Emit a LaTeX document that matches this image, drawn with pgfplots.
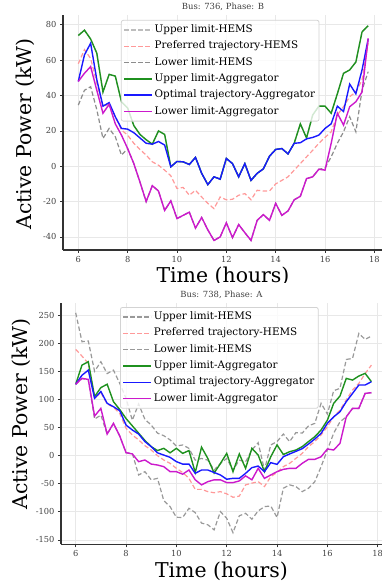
\documentclass[border=0pt]{standalone}
\usepackage{pgfplots}
\pgfplotsset{compat=1.18}
\usepackage{pgfplotstable}
\usepackage{fontspec}
\setmainfont{DejaVu Serif}

\definecolor{cUH}{rgb}{0.74,0.74,0.74}
\definecolor{cLH}{rgb}{0.55,0.55,0.55}
\definecolor{cGH}{rgb}{0.6,0.6,0.6}
\definecolor{cPH}{rgb}{1,0.6,0.6}
\definecolor{cUA}{rgb}{0.12,0.57,0.12}
\definecolor{cOA}{rgb}{0.1,0.1,1}
\definecolor{cLA}{rgb}{0.8,0.1,0.8}
\definecolor{cGrid}{rgb}{0.91,0.91,0.91}
\definecolor{cSpine}{rgb}{0.2,0.2,0.2}
\definecolor{cTxt}{rgb}{0.25,0.25,0.25}

\pgfplotstableread{
t uh ph lh ua oa la
6.00 74 58 34.6 74 48 48
6.25 77 66 43 77 63 52.6
6.50 72 61 45 72 69.6 56.4
6.75 64 47 32 64 49 43
7.00 42 34 15.7 42 34 30
7.25 52 35 21.4 52 36 35
7.50 51 28 16.7 51 28 24
7.75 36.5 20.5 6.3 36.5 21.4 17.6
8.00 33 17.6 10 33 21 10
8.25 23 13 1.5 23 19 1.5
8.50 18 9.5 -9 18 16 -9
8.75 15 6.3 -20 15 13 -20
9.00 12.5 2.5 -11 12.5 12.5 -11
9.25 20 0.6 -14 20 14 -14
9.50 18 -2.2 -25 18 12 -25
9.75 -0.3 -5.4 -19.6 -0.3 -0.3 -19.6
10.00 2.7 -12.6 -29.6 2.7 2.7 -29.6
10.25 2.5 -12 -27.8 2.5 2.5 -27.8
10.50 1 -16.4 -26 1 1 -26
10.75 5 -13.6 -35 5 5 -35
11.00 -4 -17.4 -29 -4 -4 -29
11.25 -10.4 -21 -36 -10.4 -10.4 -36
11.50 -6 -24 -42 -6 -6 -42
11.75 -7.3 -17.4 -40 -7.3 -7.3 -40
12.00 4.4 -19 -32 4.4 4.4 -32
12.25 1.5 -18.7 -40.4 1.5 1.5 -40.4
12.50 -6 -16.4 -33 -6 -6 -33
12.75 1.5 -15.5 -37.6 1.5 1.5 -37.6
13.00 -8 -19 -42 -8 -8 -42
13.25 -4 -13.6 -30.6 -4 -4 -30.6
13.50 -1.5 -14 -27.4 -1.5 -1.5 -27.4
13.75 5.7 -14 -30.6 5.7 5.7 -30.6
14.00 9.5 -10 -21 9.5 9.5 -21
14.25 10 -8 -27.8 10 10 -27.8
14.50 7 -6 -25.3 7 7 -25.3
14.75 13 -2.2 -19 13 13 -19
15.00 24 1.5 -17 24 13.3 -17
15.25 16 5.3 -7 16 15.5 -7
15.50 29 9 -6 29 16.3 -6
15.75 34 13 -1.7 34 17.6 -1.7
16.00 34 16.3 -1 34 21.4 -2.2
16.25 30 19.5 5.3 30 24 13
16.50 41 29 13 41 34 30
16.75 52.6 33.7 19.5 52.6 31 23.3
17.00 54.5 39.4 28 54.5 46.5 33.7
17.25 59 42 19.5 59 41 36.5
17.50 76 48.8 43 76 54.5 42
17.75 79.5 69.6 53.5 79.5 72 72.4
}\topdata

\pgfplotstableread{
t uh ph lh ua oa la
6.00 254 189 127 127 127 127
6.25 202.6 177 137 161 143 137.4
6.50 204 164 135 167 152 135.6
6.75 150 102 65 105 102 70.4
7.00 167 112 72 121 114 84
7.25 146 92 38 127 93 38.4
7.50 152 86 57 96 87 57.4
7.75 128.5 75 35 82 80 35
8.00 102 48.6 5 66 54.4 5.3
8.25 63 36.7 4 53 45.6 3
8.50 92 28 -34.4 40 38.4 -10.7
8.75 64.5 17.7 -28.5 27 25 -7.8
9.00 54.4 10 -43 16 16 -15
9.25 40 0 -40.4 9 5 -16.7
9.50 35.5 -7.8 -80 13 1 -19.6
9.75 28 -13.7 -90.7 5 -3 -28.5
10.00 17 -22.6 -109.7 13 -10.7 -28.5
10.25 19 -30 -110 4 -15 -33
10.50 13 -40.4 -93.7 9 -15 -25.6
10.75 -8 -60 -101.4 -30 -31.5 -43
11.00 -5 -60 -120 15 -25.6 -52
11.25 -8 -64 -123 -5 -25.6 -46.3
11.50 -25.6 -66 -132 -31 -30 -43
11.75 -14 -64 -99.6 -14 -34.4 -43
12.00 -5 -68 -111.5 4 -42 -48
12.25 -25.6 -74 -137 -28.5 -40.4 -48
12.50 -8 -72 -107 3 -40.4 -45
12.75 -11 -52 -102.6 -22.6 -31.5 -36
13.00 10 -49 -113 13 -21.4 -43
13.25 23 -46.3 -98.4 1 -18.5 -22.6
13.50 -25.6 -55 -90.7 -28.5 -28.5 -40.4
13.75 19 -37.4 -89.5 -2 -12.5 -34.4
14.00 25 -30 -110 19 -15.5 -28.5
14.25 38.4 -19.6 -58 2 -2 -24.4
14.50 25 -13.7 -52 7 3 -22.6
14.75 41 -4.8 -55 10 7.6 -22.6
15.00 40 4 -64 16 12.4 -13.7
15.25 53 16 -58 25 20.7 -6.6
15.50 57.4 25 -46.3 33.7 29.6 -6.6
15.75 93 36.7 -19.6 45.6 39.6 -2
16.00 74 51.5 10 63 57.4 11.8
16.25 115.5 69 40 93 69 10
16.50 119.6 81 60 106 78 21.8
16.75 171 99 69 137.4 96 69
17.00 173 116.7 84 134.4 110.7 84
17.25 217.4 128.5 84 141.6 125.6 84
17.50 206.7 146 110.7 146.3 125.6 110.7
17.75 212.7 161 112 131.5 131.5 112
}\botdata

\pgfplotsset{
  myaxis/.style={
    scale only axis,
    anchor=south west,
    axis x line*=bottom,
    axis y line*=left,
    axis line style={cSpine, line width=1.1bp},
    every tick/.style={cSpine, line width=0.8bp},
    tick align=outside,
    major tick length=3bp,
    grid=major,
    major grid style={cGrid, line width=0.8bp},
    xtick={6,8,...,18},
    tick label style={font=\fontsize{8.3}{9}\selectfont, text=cTxt},
    /pgf/number format/assume math mode=true,
    xlabel={Time (hours)},
    ylabel={Active Power (kW)},
    label style={font=\fontsize{20.5}{24}\selectfont, inner sep=0pt},
    xlabel style={at={(axis description cs:0.5,0)}, anchor=north, yshift=-17bp},
    every axis title/.style={font=\fontsize{8.5}{10}\selectfont, text=cTxt, at={(axis description cs:0.5,1)}, anchor=center, yshift=8bp},
    legend cell align=left,
    legend style={fill=white, fill opacity=0.8, draw opacity=1, text opacity=1,
      draw=cGrid!80!gray, rounded corners=2bp, line width=0.8bp,
      font=\fontsize{10.4}{12.5}\selectfont, anchor=north west,
      inner xsep=2bp, inner ysep=1.5bp,
      nodes={text height=7.8bp, text depth=2.7bp, inner ysep=2.9bp}},
    legend image code/.code={\draw[#1] (0bp,0bp) -- (20bp,0bp); \path (0bp,0bp) -- (28bp,0bp);},
    hem/.style={line width=1.2bp, dash pattern=on 4.5bp off 2.5bp},
    agg/.style={line width=1.4bp},
  }
}

\begin{document}
\begin{tikzpicture}
\path[use as bounding box] (0,0) rectangle (382bp,582bp);
\begin{axis}[myaxis,
  at={(63bp,332bp)}, width=320bp, height=235bp,
  xmin=5.38, xmax=18.35, ymin=-47.4, ymax=85.6,
  ytick={-40,-20,0,20,40,60,80},
  title={Bus: 736, Phase: B},
  ylabel style={at={(axis description cs:-0.119,0.494)}, anchor=center},
  legend style={at={(axis description cs:0.181,0.979)}},
]
\addplot[hem, cUH] table[x=t,y=uh]{\topdata};
\addlegendentry{Upper limit-HEMS}
\addplot[hem, cPH] table[x=t,y=ph]{\topdata};
\addlegendentry{Preferred trajectory-HEMS}
\addplot[hem, cLH] table[x=t,y=lh]{\topdata};
\addlegendentry{Lower limit-HEMS}
\addplot[agg, cUA] table[x=t,y=ua]{\topdata};
\addlegendentry{Upper limit-Aggregator}
\addplot[agg, cOA] table[x=t,y=oa]{\topdata};
\addlegendentry{Optimal trajectory-Aggregator}
\addplot[agg, cLA] table[x=t,y=la]{\topdata};
\addlegendentry{Lower limit-Aggregator}
\end{axis}
\fill[white] (0,292bp) rectangle (382bp,299bp);
\begin{axis}[myaxis,
  at={(61bp,37.7bp)}, width=321bp, height=241.6bp,
  xmin=5.416, xmax=18.17, ymin=-157.7, ymax=272,
  ytick={-150,-100,-50,0,50,100,150,200,250},
  title={Bus: 738, Phase: A},
  ylabel style={at={(axis description cs:-0.125,0.54)}, anchor=center},
  legend style={at={(axis description cs:0.184,0.982)}},
]
\addplot[hem, cGH] table[x=t,y=uh]{\botdata};
\addlegendentry{Upper limit-HEMS}
\addplot[hem, cPH] table[x=t,y=ph]{\botdata};
\addlegendentry{Preferred trajectory-HEMS}
\addplot[hem, cGH] table[x=t,y=lh]{\botdata};
\addlegendentry{Lower limit-HEMS}
\addplot[agg, cUA] table[x=t,y=ua]{\botdata};
\addlegendentry{Upper limit-Aggregator}
\addplot[agg, cOA] table[x=t,y=oa]{\botdata};
\addlegendentry{Optimal trajectory-Aggregator}
\addplot[agg, cLA] table[x=t,y=la]{\botdata};
\addlegendentry{Lower limit-Aggregator}
\end{axis}
\end{tikzpicture}
\end{document}
